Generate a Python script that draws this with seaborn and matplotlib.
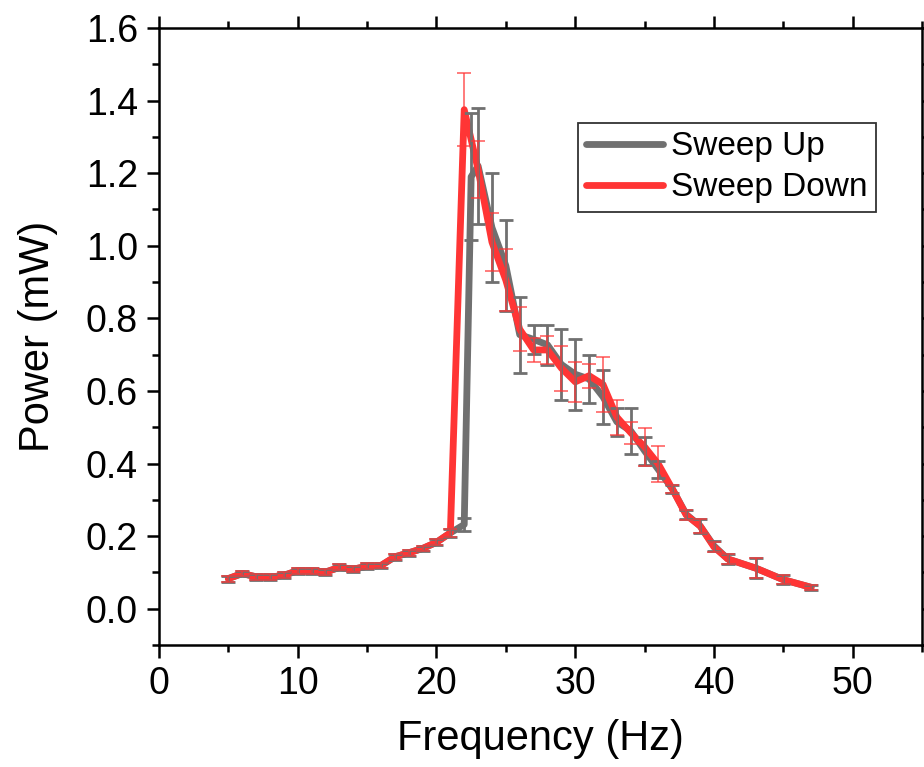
import numpy as np
import pandas as pd
import matplotlib
matplotlib.use("Agg")
import matplotlib.pyplot as plt
import seaborn as sns
from matplotlib.ticker import MultipleLocator

# ---------------- data ----------------
low_freq = [5, 6, 7, 8, 9, 10, 11, 12, 13, 14, 15, 16, 17, 18, 19, 20, 21]
low_power = [0.083, 0.097, 0.088, 0.087, 0.092, 0.105, 0.104, 0.101, 0.114, 0.109,
             0.117, 0.119, 0.143, 0.154, 0.166, 0.183, 0.209]
low_err = [0.008, 0.008, 0.008, 0.008, 0.008, 0.008, 0.008, 0.008, 0.008, 0.008,
           0.008, 0.008, 0.008, 0.008, 0.008, 0.008, 0.010]

up_freq_hi = [22, 22.5, 23, 24, 25, 26, 27, 28, 29, 30, 31, 32, 33, 34, 35, 36,
              37, 38, 39, 40, 41, 43, 45, 47]
up_power_hi = [0.232, 1.19, 1.22, 1.05, 0.945, 0.755, 0.742, 0.727, 0.673, 0.646,
               0.633, 0.584, 0.515, 0.49, 0.435, 0.383, 0.33, 0.26, 0.228, 0.173,
               0.137, 0.112, 0.08, 0.059]
up_err_hi = [0.018, 0.175, 0.16, 0.15, 0.125, 0.105, 0.04, 0.055, 0.097, 0.098,
             0.066, 0.074, 0.038, 0.063, 0.038, 0.023, 0.011, 0.013, 0.02, 0.015,
             0.014, 0.027, 0.013, 0.007]

down_freq_hi = [22, 23, 24, 25, 26, 27, 28, 29, 30, 31, 32, 33, 34, 35, 36,
                37, 38, 39, 40, 41, 43, 45, 47]
down_power_hi = [1.375, 1.21, 1.01, 0.905, 0.77, 0.713, 0.713, 0.663, 0.625, 0.642,
                 0.618, 0.528, 0.485, 0.446, 0.398, 0.33, 0.258, 0.228, 0.17,
                 0.137, 0.112, 0.08, 0.059]
down_err_hi = [0.10, 0.078, 0.08, 0.085, 0.06, 0.034, 0.038, 0.062, 0.055, 0.033,
               0.075, 0.048, 0.03, 0.052, 0.05, 0.011, 0.013, 0.02, 0.015, 0.014,
               0.027, 0.013, 0.007]

up_freq = low_freq + up_freq_hi
up_power = low_power + up_power_hi
up_err = low_err + up_err_hi
down_freq = low_freq + down_freq_hi
down_power = low_power + down_power_hi
down_err = low_err + down_err_hi

df = pd.concat([
    pd.DataFrame({"Frequency": up_freq, "Power": up_power, "Err": up_err, "Sweep": "Sweep Up"}),
    pd.DataFrame({"Frequency": down_freq, "Power": down_power, "Err": down_err, "Sweep": "Sweep Down"}),
], ignore_index=True)

GRAY = "#707070"
RED = "#ff3535"

# ---------------- plot ----------------
sns.set_style("ticks")
plt.rcParams["font.family"] = ["Liberation Sans", "DejaVu Sans"]
plt.rcParams["text.color"] = "black"
plt.rcParams["axes.labelcolor"] = "black"
plt.rcParams["xtick.color"] = "black"
plt.rcParams["ytick.color"] = "black"

fig = plt.figure(figsize=(9.24, 7.67), dpi=100)
ax = fig.add_axes([0.172, 0.159, 0.826, 0.8045])

sns.lineplot(data=df, x="Frequency", y="Power", hue="Sweep",
             palette={"Sweep Up": GRAY, "Sweep Down": RED},
             hue_order=["Sweep Up", "Sweep Down"], sort=False, estimator=None,
             linewidth=4.9, ax=ax, zorder=2)

up = df[df["Sweep"] == "Sweep Up"]
dn = df[df["Sweep"] == "Sweep Down"]
ax.errorbar(up["Frequency"], up["Power"], yerr=up["Err"], fmt="none",
            ecolor=GRAY, elinewidth=2.0, capsize=5, capthick=2.0, zorder=3)
ax.errorbar(dn["Frequency"], dn["Power"], yerr=dn["Err"], fmt="none",
            ecolor=RED, alpha=0.65, elinewidth=1.4, capsize=5, capthick=1.4, zorder=4)

ax.set_xlim(0, 55)
ax.set_ylim(-0.1, 1.6)
ax.xaxis.set_major_locator(MultipleLocator(10))
ax.xaxis.set_minor_locator(MultipleLocator(5))
ax.yaxis.set_major_locator(MultipleLocator(0.2))
ax.yaxis.set_minor_locator(MultipleLocator(0.1))
ax.yaxis.set_major_formatter(matplotlib.ticker.FormatStrFormatter("%.1f"))

for s in ax.spines.values():
    s.set_visible(True)
    s.set_linewidth(1.8)
    s.set_color("black")

ax.tick_params(which="both", direction="out", top=True, right=True,
               labeltop=False, labelright=False, width=1.8, colors="black",
               labelsize=27)
ax.tick_params(which="major", length=9, pad=6)
ax.tick_params(which="minor", length=5)

ax.set_xlabel("Frequency (Hz)", fontsize=30, labelpad=12)
ax.set_ylabel("Power (mW)", fontsize=30, labelpad=20)

leg = ax.legend(loc="upper left", bbox_to_anchor=(0.549, 0.846), borderaxespad=0,
                fontsize=24, frameon=True, fancybox=False, edgecolor="black",
                handlelength=2.3, handletextpad=0.25, borderpad=0.25,
                labelspacing=0.3)
leg.get_frame().set_linewidth(1.3)
leg.set_title(None)
for line in leg.get_lines():
    line.set_linewidth(4.9)

fig.savefig("out.png", dpi=100)
